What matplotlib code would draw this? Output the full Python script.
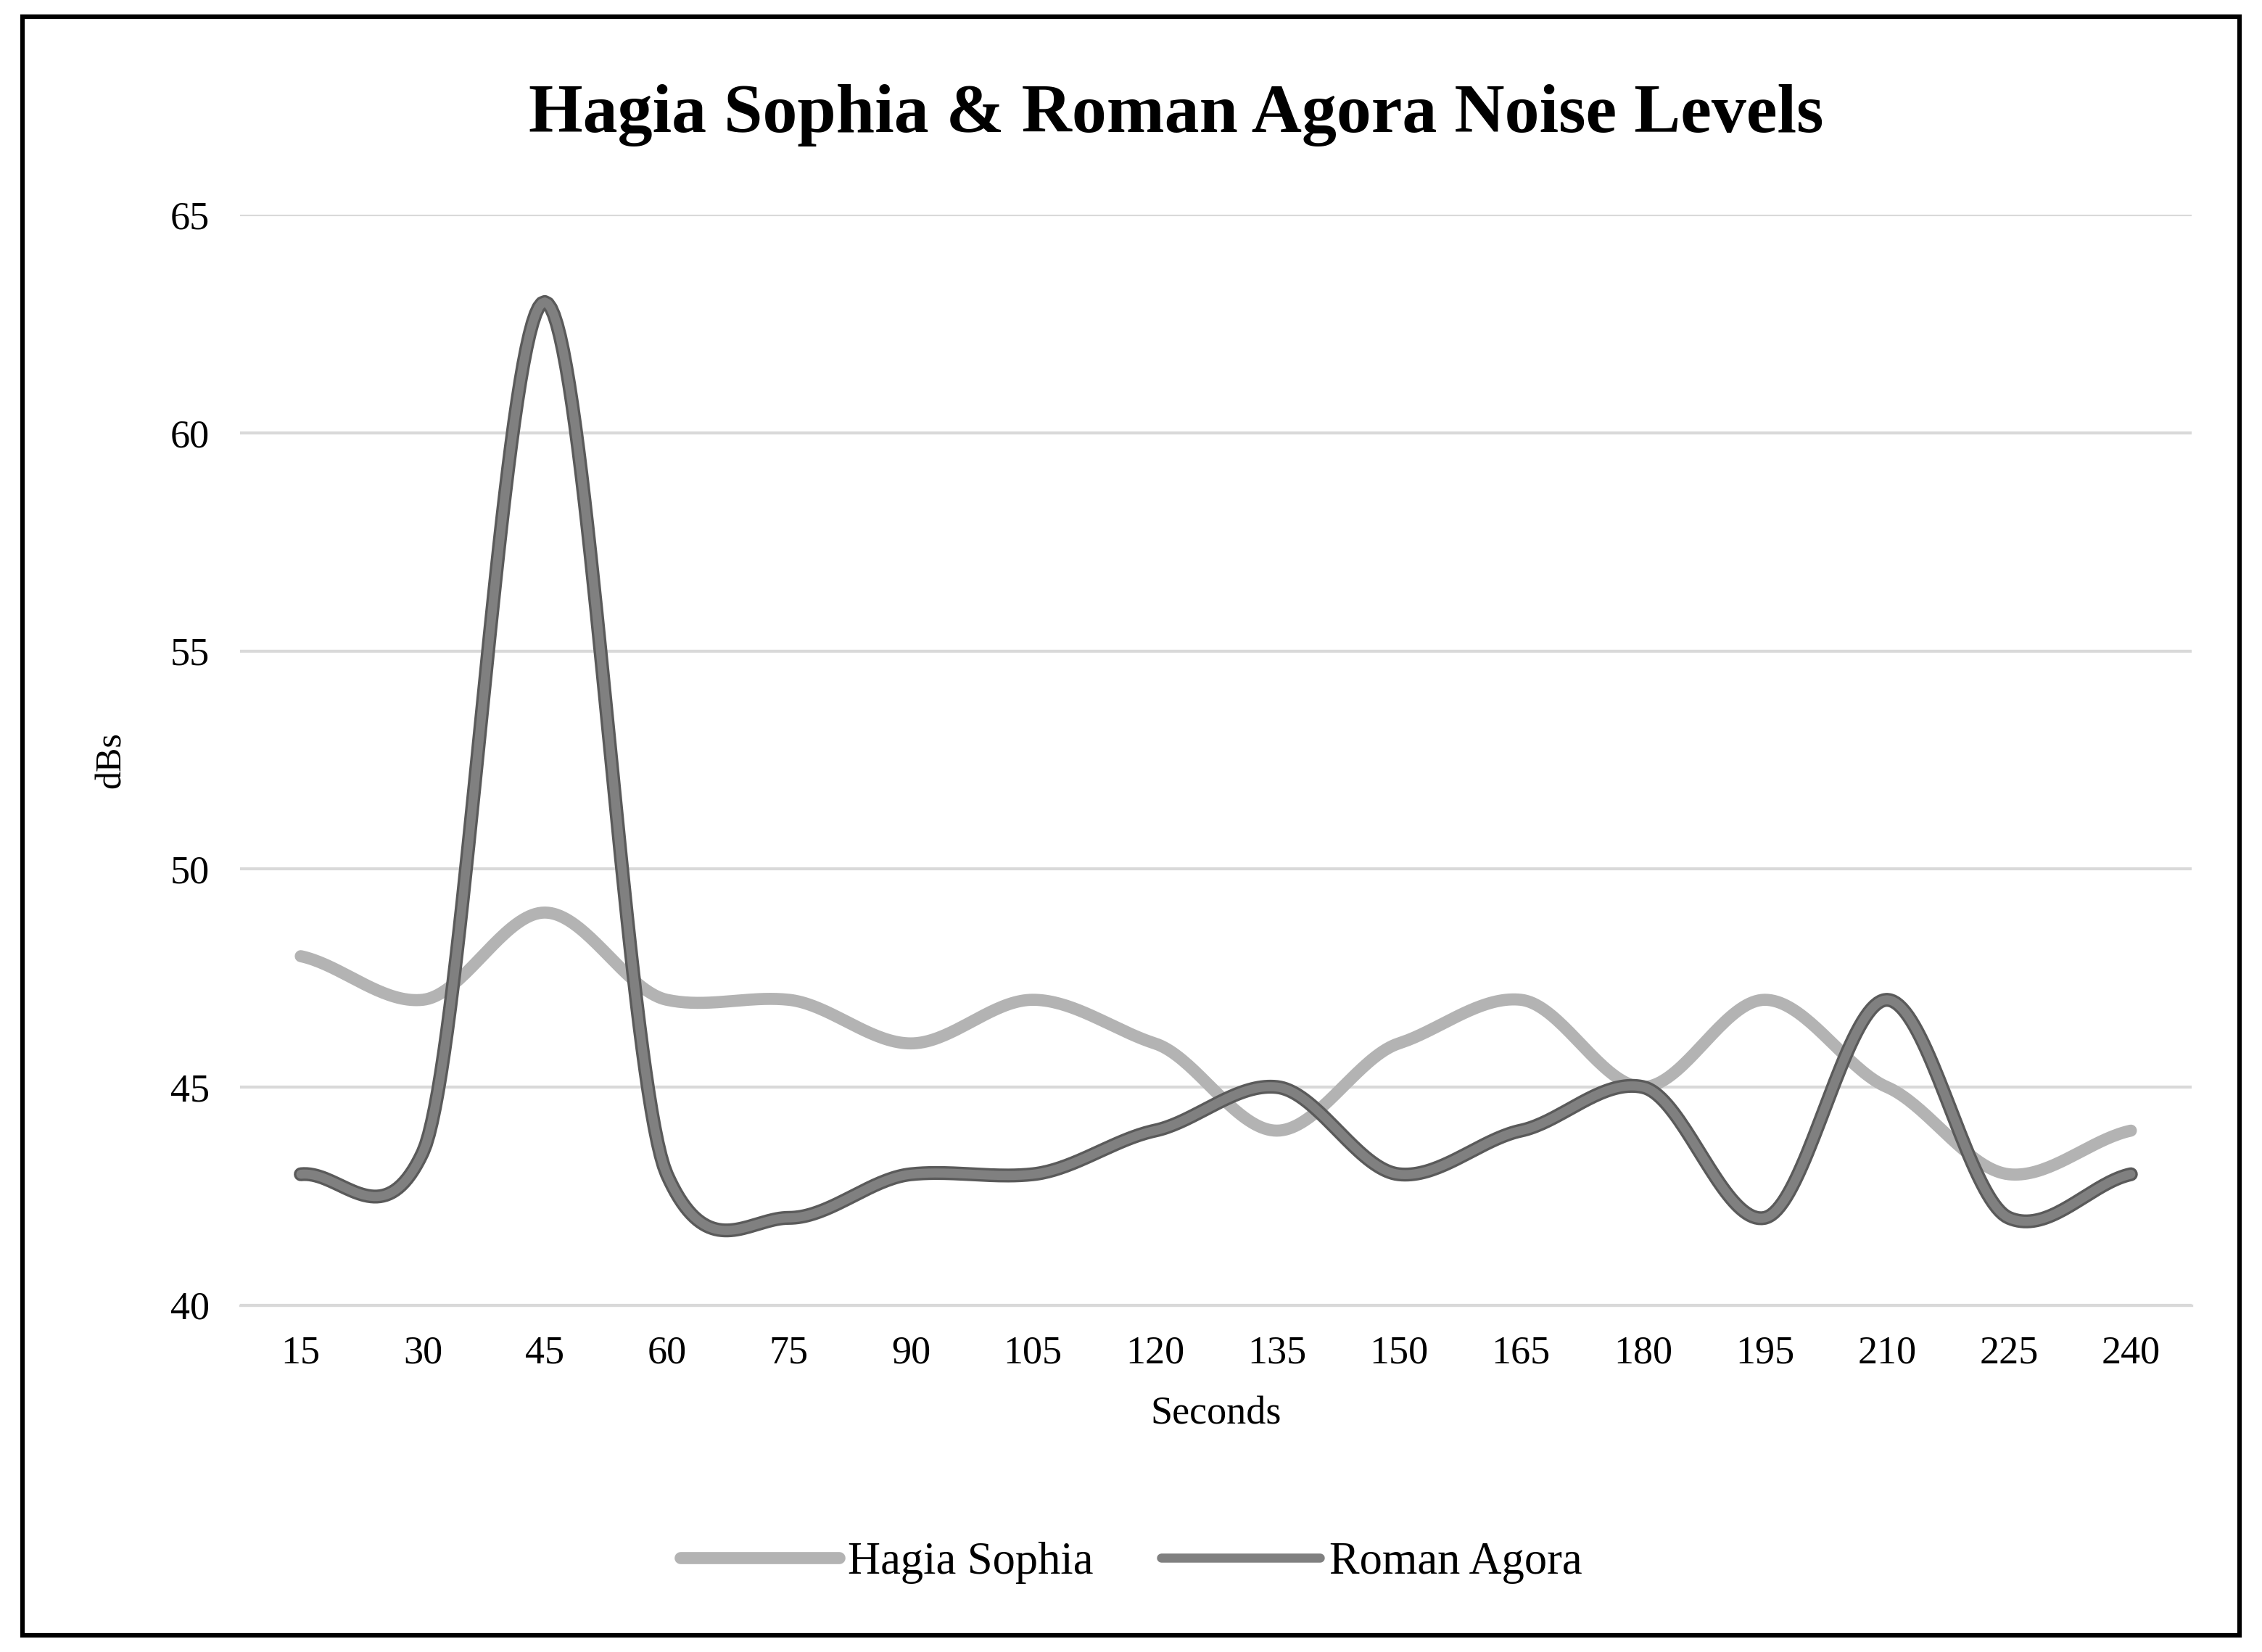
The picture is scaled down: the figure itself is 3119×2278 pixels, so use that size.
import numpy as np
import matplotlib.pyplot as plt
from matplotlib.patches import Rectangle

seconds = [15, 30, 45, 60, 75, 90, 105, 120, 135, 150, 165, 180, 195, 210, 225, 240]
hagia = [48, 47, 49, 47, 47, 46, 47, 46, 44, 46, 47, 45, 47, 45, 43, 44]
agora = [43, 43.5, 63, 43, 42, 43, 43, 44, 45, 43, 44, 45, 42, 47, 42, 43]

def smooth(y, n=40, s=0.6):
    # cardinal spline smoothing, similar to the spreadsheet's smoothed line
    y = np.asarray(y, dtype=float)
    x = np.arange(1, len(y) + 1, dtype=float)
    m = np.zeros_like(y)
    m[1:-1] = s * (y[2:] - y[:-2]) / 2
    m[0] = s * (y[1] - y[0])
    m[-1] = s * (y[-1] - y[-2])
    xs, ys = [], []
    t = np.linspace(0, 1, n, endpoint=False)
    h00 = 2 * t**3 - 3 * t**2 + 1
    h10 = t**3 - 2 * t**2 + t
    h01 = -2 * t**3 + 3 * t**2
    h11 = t**3 - t**2
    for i in range(len(y) - 1):
        xs.extend(x[i] + t)
        ys.extend(h00 * y[i] + h10 * m[i] + h01 * y[i + 1] + h11 * m[i + 1])
    xs.append(x[-1]); ys.append(y[-1])
    return np.array(xs), np.array(ys)

plt.rcParams['font.family'] = ['Liberation Serif', 'DejaVu Serif']
fig = plt.figure(figsize=(3119 / 300, 2278 / 300), dpi=300)
fig.patches.append(Rectangle((0.01, 0.01), 0.98, 0.98, transform=fig.transFigure,
                             fill=False, edgecolor='black', linewidth=1.5))
ax = fig.add_axes([0.106, 0.21, 0.863, 0.66])

hx, hy = smooth(hagia)
ax.plot(hx, hy, color='#b3b3b3', linewidth=4, solid_capstyle='round', label='Hagia Sophia', zorder=3)
ax_, ay = smooth(agora)
ax.plot(ax_, ay, color='#5a5a5a', linewidth=4.6, solid_capstyle='round', zorder=4)
ax.plot(ax_, ay, color='#808080', linewidth=3, solid_capstyle='round', label='Roman Agora', zorder=5)

ax.set_xlim(0.5, len(seconds) + 0.5)
ax.set_ylim(40, 65)
ax.set_xticks(range(1, len(seconds) + 1))
ax.set_xticklabels([str(s) for s in seconds])
ax.set_yticks([40, 45, 50, 55, 60, 65])
ax.grid(axis='y', color='#d9d9d9', linewidth=1)
ax.set_axisbelow(True)
for s in ['top', 'right', 'left']:
    ax.spines[s].set_visible(False)
ax.spines['bottom'].set_color('#d9d9d9')
ax.tick_params(length=0, labelsize=13, pad=10)
ax.set_xlabel('Seconds', fontsize=13, labelpad=8)
ax.set_ylabel('dBs', fontsize=12, labelpad=14)
fig.text(0.52, 0.93, 'Hagia Sophia & Roman Agora Noise Levels', ha='center', va='center',
         fontsize=23, fontweight='bold')
h, l = ax.get_legend_handles_labels()
fig.legend(h, l, loc='center', bbox_to_anchor=(0.5, 0.054), ncol=2, frameon=False,
           fontsize=15, handlelength=3.5, columnspacing=1.5, handletextpad=0.2)
fig.savefig('out.png', dpi=300)
